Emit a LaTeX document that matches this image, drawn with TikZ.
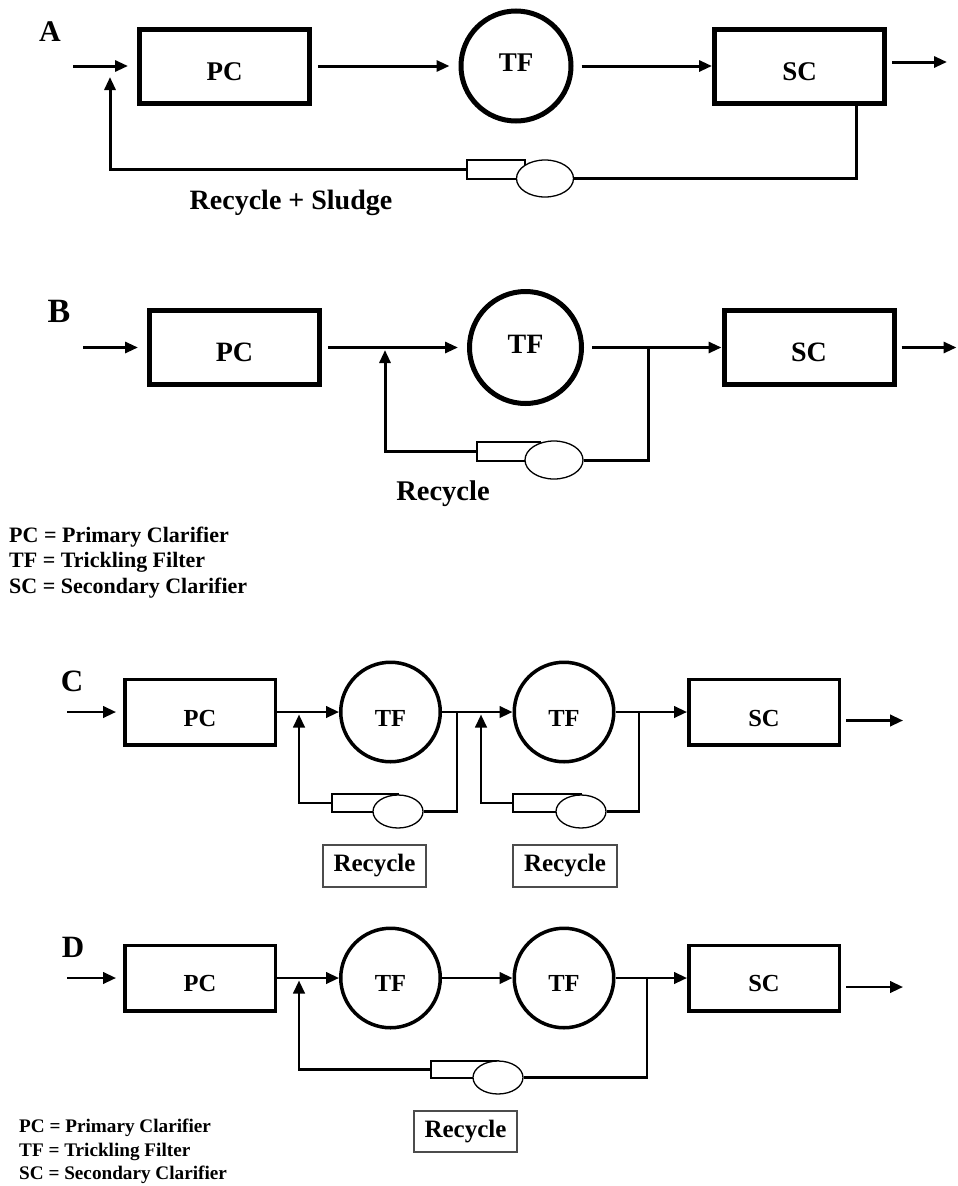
\documentclass[tikz,border=0pt]{standalone}
\usepackage{fontspec}
\setmainfont{Liberation Serif}
\usetikzlibrary{arrows.meta,shapes.geometric}
\newcommand\myfs[2]{\fontsize{#1}{#2}\selectfont\bfseries}
\newcommand\dn[2]{\raisebox{-#1}[\height][\depth]{#2}}
\begin{document}
\begin{tikzpicture}[x=1pt,y=-1pt,
  boxAB/.style={draw,rectangle,line width=5pt,minimum width=170pt,minimum height=74pt,inner sep=0pt},
  tfAB/.style={draw,circle,line width=5pt,minimum size=110pt,inner sep=0pt},
  boxCD/.style={draw,rectangle,line width=3.5pt,minimum width=150.5pt,minimum height=65.5pt,inner sep=0pt,font=\myfs{24.5}{24.5}},
  tfCD/.style={draw,circle,line width=3.5pt,minimum size=99.5pt,inner sep=0pt,font=\myfs{24.5}{24.5}},
  flowAB/.style={line width=3pt,-{Triangle[length=13pt,width=11pt]}},
  lineAB/.style={line width=3pt},
  flowCD/.style={line width=2.5pt,-{Triangle[length=13pt,width=11.5pt]}},
  lineCD/.style={line width=2.2pt},
  pumprect/.style={draw,rectangle,line width=1.3pt,fill=white,inner sep=0pt},
  pumpell/.style={draw,ellipse,line width=1.3pt,fill=white,inner sep=0pt},
  recbox/.style={draw=black!70,rectangle,line width=1.3pt,inner sep=0pt,minimum width=103pt,minimum height=42pt,font=\myfs{25}{25}},
  txt/.style={inner sep=0pt}
]
\useasboundingbox (0,0) rectangle (958,1186);

% ================= Panel A =================
\node[txt,font=\myfs{30}{30}] (labA) at (50,32) {A};
\node[boxAB,font=\myfs{27}{27}] (pcA) at (224.5,66) {\dn{6pt}{PC}};
\node[tfAB,font=\myfs{27}{27}] (tfA) at (516,66) {\dn{-3pt}{TF}};
\node[boxAB,font=\myfs{27}{27}] (scA) at (799.5,66) {\dn{6pt}{SC}};
\coordinate (inA) at (73,66);
\draw[flowAB] (inA) -- ([xshift=-9pt]pcA.west);
\draw[flowAB] ([xshift=6pt]pcA.east) -- ([xshift=-9pt]tfA.west);
\draw[flowAB] ([xshift=8pt]tfA.east) -- (scA.west);
\draw[flowAB] ([xshift=5pt,yshift=4pt]scA.east) -- ++(55,0);
\node[pumprect,minimum width=58pt,minimum height=19pt] (prA) at (496,169.5) {};
\node[pumpell,minimum width=57pt,minimum height=37pt] (peA) at (545,178.5) {};
\coordinate (rA1) at (856,178.5);
\coordinate (rA2) at (110,169.5);
\coordinate (rA3) at (110,77);
\draw[lineAB] (scA.south -| rA1) -- (rA1) -- (peA.east);
\draw[flowAB] (prA.west) -- (rA2) -- (rA3);
\node[txt,font=\myfs{28}{28}] (recA) at (291,203) {Recycle + Sludge};

% ================= Panel B =================
\node[txt,font=\myfs{34}{34}] (labB) at (59,311) {B};
\node[boxAB,font=\myfs{28}{28}] (pcB) at (234.5,347.5) {\dn{5pt}{PC}};
\node[tfAB,minimum size=112pt,font=\myfs{28}{28}] (tfB) at (525.5,347.5) {\dn{-3pt}{TF}};
\node[boxAB,font=\myfs{28}{28}] (scB) at (809,347.5) {\dn{5pt}{SC}};
\coordinate (inB) at (83,347.5);
\draw[flowAB] (inB) -- ([xshift=-9pt]pcB.west);
\draw[flowAB] ([xshift=6pt]pcB.east) -- ([xshift=-9pt]tfB.west);
\draw[flowAB] ([xshift=8pt]tfB.east) -- (scB.west);
\draw[flowAB] ([xshift=5pt]scB.east) -- ++(55,0);
\node[pumprect,minimum width=63pt,minimum height=19pt] (prB) at (508.5,451.5) {};
\node[pumpell,minimum width=58pt,minimum height=38pt] (peB) at (554,460) {};
\coordinate (rB1) at (648,460);
\coordinate (rB2) at (648,347.5);
\coordinate (rB3) at (385,451.5);
\coordinate (rB4) at (385,350);
\draw[lineAB] (peB.east) -- (rB1) -- (rB2);
\draw[flowAB] (prB.west) -- (rB3) -- (rB4);
\node[txt,font=\myfs{28.5}{28.5}] (recB) at (443,494) {Recycle};
\node[txt,anchor=west,align=left,font=\myfs{22}{25.5}] (legB) at (9,562.5)
  {PC = Primary Clarifier\\TF = Trickling Filter\\SC = Secondary Clarifier};

% ================= Panel C =================
\node[txt,font=\myfs{31}{31}] (labC) at (72,681) {C};
\node[boxCD] (pcC) at (200,712) {\dn{6pt}{PC}};
\node[tfCD] (tf1C) at (390.5,712) {\dn{6pt}{TF}};
\node[tfCD] (tf2C) at (564,712) {\dn{6pt}{TF}};
\node[boxCD] (scC) at (764,712) {\dn{6pt}{SC}};
\coordinate (inC) at (67,712);
\draw[flowCD] (inC) -- ([xshift=-7pt]pcC.west);
\draw[flowCD] (pcC.east) -- (tf1C.west);
\draw[flowCD] (tf1C.east) -- (tf2C.west);
\draw[flowCD] (tf2C.east) -- (scC.west);
\draw[flowCD] ([xshift=5pt,yshift=-8.5pt]scC.east) -- ++(57,0);
% recycle 1
\node[pumprect,minimum width=66pt,minimum height=18pt] (pr1C) at (365,803) {};
\node[pumpell,minimum width=50pt,minimum height=33pt] (pe1C) at (398,811.5) {};
\coordinate (r1C1) at (457,811.5);
\coordinate (r1C2) at (457,712);
\coordinate (r1C3) at (299,803);
\coordinate (r1C4) at (299,714.5);
\draw[lineCD] (pe1C.east) -- (r1C1) -- (r1C2);
\draw[flowCD] (pr1C.west) -- (r1C3) -- (r1C4);
% recycle 2
\node[pumprect,minimum width=68pt,minimum height=18pt] (pr2C) at (547,803) {};
\node[pumpell,minimum width=50pt,minimum height=33pt] (pe2C) at (581,811.5) {};
\coordinate (r2C1) at (639,811.5);
\coordinate (r2C2) at (639,712);
\coordinate (r2C3) at (481,803);
\coordinate (r2C4) at (481,714.5);
\draw[lineCD] (pe2C.east) -- (r2C1) -- (r2C2);
\draw[flowCD] (pr2C.west) -- (r2C3) -- (r2C4);
\node[recbox] (rec1C) at (374.5,866) {Recycle};
\node[recbox,minimum width=104pt] (rec2C) at (565,866) {Recycle};

% ================= Panel D =================
\node[txt,font=\myfs{31}{31}] (labD) at (73,947) {D};
\node[boxCD] (pcD) at (200,978) {\dn{5pt}{PC}};
\node[tfCD] (tf1D) at (390.5,978) {\dn{5pt}{TF}};
\node[tfCD] (tf2D) at (564,978) {\dn{5pt}{TF}};
\node[boxCD] (scD) at (764,978) {\dn{5pt}{SC}};
\coordinate (inD) at (67,978);
\draw[flowCD] (inD) -- ([xshift=-7pt]pcD.west);
\draw[flowCD] (pcD.east) -- (tf1D.west);
\draw[flowCD] (tf1D.east) -- (tf2D.west);
\draw[flowCD] (tf2D.east) -- (scD.west);
\draw[flowCD] ([xshift=5pt,yshift=-9pt]scD.east) -- ++(57,0);
\node[pumprect,minimum width=67pt,minimum height=17pt] (prD) at (464.5,1069.5) {};
\node[pumpell,minimum width=50pt,minimum height=33pt] (peD) at (498,1077.5) {};
\coordinate (rD1) at (647,1077.5);
\coordinate (rD2) at (647,978);
\coordinate (rD3) at (299,1069.5);
\coordinate (rD4) at (299,980.5);
\draw[lineCD] (peD.east) -- (rD1) -- (rD2);
\draw[flowCD] (prD.west) -- (rD3) -- (rD4);
\node[recbox,minimum height=41pt] (recD) at (465.5,1131.5) {Recycle};
\node[txt,anchor=west,align=left,font=\myfs{19.2}{23.5}] (legD) at (19,1151.5)
  {PC = Primary Clarifier\\TF = Trickling Filter\\SC = Secondary Clarifier};
\end{tikzpicture}
\end{document}
